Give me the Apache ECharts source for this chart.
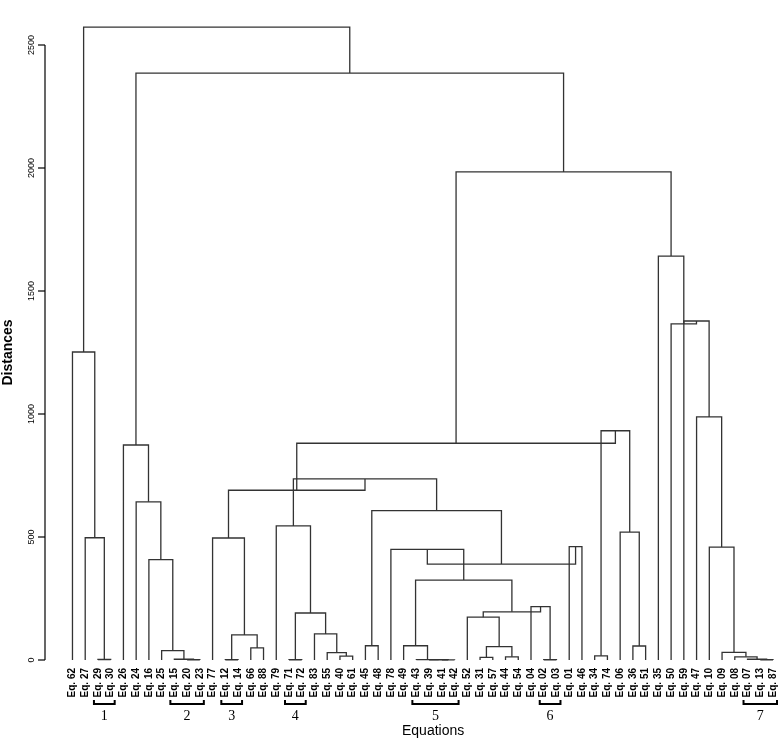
<!DOCTYPE html>
<html>
<head>
<meta charset="utf-8">
<title>Dendrogram</title>
<script src="https://cdn.jsdelivr.net/npm/echarts@6/dist/echarts.min.js"></script>
<style>
html, body { margin: 0; padding: 0; background: #fff; }
#main { width: 778px; height: 742px; }
</style>
</head>
<body>
<div id="main"></div>
<script>
// leaf order as printed under the tree
var leafLabels = ['62','27','29','30','26','24','16','25','15','20','23','77','12','14','66','88',
    '79','71','72','83','55','40','61','45','48','78','49','43','39','41','42','52','31','57',
    '44','54','04','02','03','01','46','34','74','06','36','51','35','50','59','47','10','09',
    '08','07','13','87'];

// merge table, hclust style: -k = leaf k (1-based), +k = merge row k (1-based)
var merges = [
    [-3, -4], [-2, 1], [-1, 2],
    [-10, -11], [-9, 4], [-8, 5], [-7, 6], [-6, 7], [-5, 8],
    [-13, -14], [-15, -16], [10, 11], [-12, 12],
    [-18, -19], [-22, -23], [-21, 15], [-20, 16], [14, 17], [-17, 18],
    [-24, -25], [-30, -31], [-29, 21], [-28, 22], [-27, 23],
    [-33, -34], [-35, -36], [25, 26], [-32, 27], [-38, -39], [-37, 29], [28, 30],
    [24, 31], [-26, 32], [-40, -41], [33, 34], [20, 35], [19, 36], [13, 37],
    [-42, -43], [-45, -46], [-44, 40], [39, 41], [38, 42],
    [-55, -56], [-54, 44], [-53, 45], [-52, 46], [-51, 47], [-50, 48], [-49, 49],
    [-48, 50], [-47, 51], [43, 52], [9, 53], [3, 54]
];
var mergeHeights = [
    2, 497, 1252,
    1, 3, 38, 408, 643, 874,
    1, 49, 102, 496,
    1, 16, 30, 106, 191, 545,
    58, 0.5, 1, 1.5, 58,
    11, 13, 54, 174, 1, 217, 196,
    325, 450, 461, 390, 607, 736, 690,
    17, 57, 520, 932, 881,
    1, 3, 13, 31, 459, 988, 1378,
    1366, 1642, 1984, 2386, 2573
];

// numbered groups marked under the labels (first leaf, last leaf)
var groupNames = ['1', '2', '3', '4', '5', '6', '7'];
var groupStart = [2, 8, 12, 17, 27, 37, 53];
var groupEnd = [3, 10, 13, 18, 30, 38, 55];

var yTicks = [0, 500, 1000, 1500, 2000, 2500];

// leaves start two slots right of the distance axis (R leaves a gap there)
var leafOffset = 2;

// build the U shaped links from the merge table
var nodePos = [];
var links = [];
function childX(k) { return k < 0 ? (-k - 1) + leafOffset : nodePos[k - 1]; }
function childH(k) { return k < 0 ? 0 : mergeHeights[k - 1]; }
for (var i = 0; i < merges.length; i++) {
    var a = merges[i][0], b = merges[i][1], h = mergeHeights[i];
    var xa = childX(a), xb = childX(b);
    nodePos[i] = (xa + xb) / 2;
    links.push({ coords: [[xa, childH(a)], [xa, h], [xb, h], [xb, childH(b)]] });
}

var groupData = [];
for (var g = 0; g < groupNames.length; g++) {
    groupData.push([groupStart[g] + leafOffset, groupEnd[g] + leafOffset]);
}

var chart = echarts.init(document.getElementById('main'));
var option = {
    backgroundColor: '#fff',
    animation: false,
    textStyle: { fontFamily: '"Liberation Sans", Arial, sans-serif' },
    grid: { left: 47, right: 5, top: 45, bottom: 82, outerBoundsMode: 'none', containLabel: false },
    xAxis: {
        type: 'value',
        min: 0,
        max: leafLabels.length - 1 + leafOffset,
        interval: 1,
        axisLine: { show: false },
        axisTick: { show: false },
        splitLine: { show: false },
        axisLabel: {
            rotate: 90,
            margin: 8,
            fontSize: 10,
            fontWeight: 'bold',
            color: '#000',
            formatter: function (v) {
                var k = Math.round(v) - leafOffset;
                return k >= 0 ? 'Eq. ' + leafLabels[k] : '';
            }
        }
    },
    yAxis: {
        type: 'value',
        min: yTicks[0],
        max: yTicks[yTicks.length - 1],
        interval: 500,
        name: 'Distances',
        nameLocation: 'middle',
        nameGap: 32,
        nameRotate: 90,
        nameTextStyle: { fontSize: 14, fontWeight: 'bold', color: '#000' },
        // line and ticks are drawn by the custom series below
        axisLine: { show: false },
        axisTick: { show: false },
        splitLine: { show: false },
        axisLabel: {
            rotate: 90, margin: 11, fontSize: 9, color: '#000',
            formatter: function (v) { return String(v); }
        }
    },
    graphic: [{
        type: 'text',
        left: 402,
        top: 724,
        style: { text: 'Equations', fontSize: 14, fill: '#000', fontFamily: '"Liberation Sans", Arial, sans-serif' }
    }],
    series: [
        {
            type: 'lines',
            coordinateSystem: 'cartesian2d',
            polyline: true,
            silent: true,
            clip: false,
            lineStyle: { color: '#333', width: 1.3, opacity: 1, curveness: 0 },
            data: links
        },
        {
            // distance axis: vertical line plus outward ticks at yTicks
            type: 'custom',
            silent: true,
            clip: false,
            data: yTicks.map(function (t) { return [leafOffset, t]; }),
            renderItem: function (params, api) {
                var p = api.coord([0, api.value(1)]);
                var x = p[0] - 2;
                var kids = [{
                    type: 'polyline',
                    shape: { points: [[x - 7, p[1]], [x, p[1]]] },
                    style: { stroke: '#000', lineWidth: 1.2, fill: null }
                }];
                if (params.dataIndex === 0) {
                    var top = api.coord([0, yTicks[yTicks.length - 1]]);
                    kids.push({
                        type: 'polyline',
                        shape: { points: [[x, p[1]], [x, top[1]]] },
                        style: { stroke: '#000', lineWidth: 1.2, fill: null }
                    });
                }
                return { type: 'group', children: kids };
            }
        },
        {
            type: 'custom',
            silent: true,
            clip: false,
            data: groupData,
            renderItem: function (params, api) {
                var p0 = api.coord([api.value(0), 0]);
                var p1 = api.coord([api.value(1), 0]);
                var y = p0[1] + 44;
                var x0 = p0[0] - 4, x1 = p1[0] + 4;
                return {
                    type: 'group',
                    children: [
                        {
                            type: 'polyline',
                            shape: { points: [[x0, y - 4], [x0, y], [x1, y], [x1, y - 4]] },
                            style: { stroke: '#000', lineWidth: 2, fill: null }
                        },
                        {
                            type: 'text',
                            style: {
                                text: groupNames[params.dataIndex],
                                x: (x0 + x1) / 2,
                                y: y + 12,
                                align: 'center',
                                verticalAlign: 'middle',
                                fontSize: 14,
                                fontFamily: '"Liberation Serif", "Times New Roman", serif',
                                fill: '#000'
                            }
                        }
                    ]
                };
            }
        }
    ]
};
chart.setOption(option);
</script>
</body>
</html>
